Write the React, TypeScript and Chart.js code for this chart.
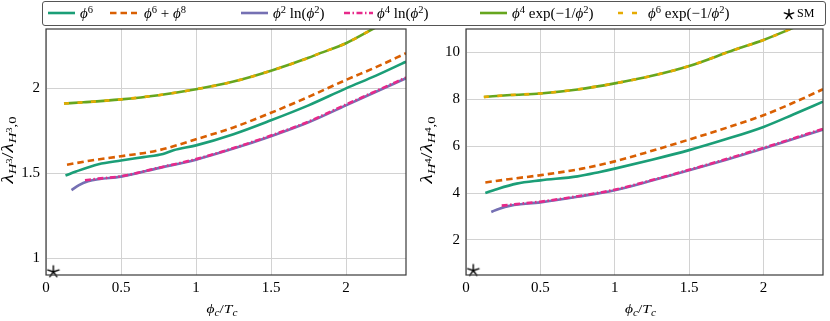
import React, { useEffect, useRef } from "react";
import { Chart, registerables } from "chart.js";
Chart.register(...registerables);

// ---------- axes ----------
const X_TICKS = [0, 0.5, 1, 1.5, 2];
const X_MIN = 0;
const X_MAX = 2.4;
const L_Y_TICKS = [1, 1.5, 2];
const L_Y_MIN = 0.9;
const L_Y_MAX = 2.35;
const R_Y_TICKS = [2, 4, 6, 8, 10];
const R_Y_MIN = 0.5;
const R_Y_MAX = 11;

// ---------- left panel: lambda_H3 / lambda_H3,0 ----------
const L_P6_X = [0.13, 0.2, 0.35, 0.5, 0.65, 0.78, 0.85, 1.0, 1.25, 1.5, 1.75, 2.0, 2.2, 2.4];
const L_P6_Y = [1.486, 1.51, 1.553, 1.575, 1.595, 1.613, 1.635, 1.664, 1.73, 1.812, 1.9, 2.0, 2.075, 2.157];
const L_P68_X = [0.14, 0.3, 0.5, 0.75, 1.0, 1.25, 1.5, 1.75, 2.0, 2.2, 2.4];
const L_P68_Y = [1.55, 1.575, 1.6, 1.635, 1.7, 1.77, 1.856, 1.95, 2.05, 2.125, 2.207];
const L_P2LN_X = [0.17, 0.22, 0.28, 0.35, 0.5, 0.75, 1.0, 1.25, 1.5, 1.75, 2.0, 2.2, 2.4];
const L_P2LN_Y = [1.4, 1.43, 1.452, 1.465, 1.48, 1.53, 1.58, 1.645, 1.718, 1.8, 1.9, 1.98, 2.06];
const L_P4LN_X = [0.26, 0.35, 0.5, 0.75, 1.0, 1.25, 1.5, 1.75, 2.0, 2.2, 2.4];
const L_P4LN_Y = [1.458, 1.468, 1.482, 1.532, 1.583, 1.648, 1.722, 1.804, 1.905, 1.984, 2.064];
const L_P4EXP_X = [0.12, 0.25, 0.5, 0.75, 1.0, 1.25, 1.5, 1.75, 1.82, 2.0, 2.2, 2.4];
const L_P4EXP_Y = [1.911, 1.918, 1.935, 1.96, 1.995, 2.04, 2.104, 2.18, 2.205, 2.266, 2.36, 2.45];
const L_P6EXP_X = L_P4EXP_X;
const L_P6EXP_Y = L_P4EXP_Y;
const L_SM_X = [0.049];
const L_SM_Y = [0.919];

// ---------- right panel: lambda_H4 / lambda_H4,0 ----------
const R_P6_X = [0.13, 0.2, 0.34, 0.5, 0.75, 0.9, 1.0, 1.25, 1.5, 1.75, 2.0, 2.2, 2.4];
const R_P6_Y = [4.0, 4.15, 4.4, 4.54, 4.71, 4.9, 5.04, 5.42, 5.83, 6.3, 6.82, 7.35, 7.9];
const R_P68_X = [0.13, 0.3, 0.5, 0.78, 1.0, 1.25, 1.5, 1.75, 2.0, 2.2, 2.4];
const R_P68_Y = [4.45, 4.6, 4.76, 5.04, 5.35, 5.8, 6.28, 6.78, 7.32, 7.85, 8.43];
const R_P2LN_X = [0.17, 0.22, 0.3, 0.5, 0.75, 1.0, 1.25, 1.5, 1.75, 2.0, 2.2, 2.4];
const R_P2LN_Y = [3.19, 3.32, 3.46, 3.6, 3.84, 4.12, 4.53, 4.97, 5.42, 5.9, 6.3, 6.71];
const R_P4LN_X = [0.24, 0.3, 0.5, 0.75, 1.0, 1.25, 1.5, 1.75, 2.0, 2.2, 2.4];
const R_P4LN_Y = [3.46, 3.5, 3.63, 3.86, 4.14, 4.55, 4.99, 5.45, 5.93, 6.33, 6.74];
const R_P4EXP_X = [0.12, 0.3, 0.5, 0.75, 1.0, 1.25, 1.5, 1.8, 2.0, 2.2, 2.4];
const R_P4EXP_Y = [8.1, 8.18, 8.25, 8.42, 8.68, 9.0, 9.42, 10.1, 10.53, 11.05, 11.6];
const R_P6EXP_X = R_P4EXP_X;
const R_P6EXP_Y = R_P4EXP_Y;
const R_SM_X = [0.049];
const R_SM_Y = [0.69];

// ---------- styles ----------
const FONT = '"Liberation Serif", "DejaVu Serif", serif';
const C_P6 = "#1b9e77";
const C_P68 = "#d95f02";
const C_P2LN = "#7570b3";
const C_P4LN = "#e7298a";
const C_P4EXP = "#66a61e";
const C_P6EXP = "#e6ab02";
const D_P68 = [6.5, 4];
const D_P4LN = [6, 2.5, 1.5, 2.5];
const D_P6EXP = [5, 8.5];
const LW = 2.6;

function pts(xs: number[], ys: number[]) {
  return xs.map((x, i) => ({ x, y: ys[i] }));
}

function makeStar(r: number, lw: number) {
  const c = document.createElement("canvas");
  const s = Math.ceil(2 * r + 4);
  c.width = s;
  c.height = s;
  const ctx = c.getContext("2d")!;
  ctx.strokeStyle = "#000";
  ctx.lineWidth = lw;
  ctx.lineCap = "round";
  for (let k = 0; k < 5; k++) {
    const a = -Math.PI / 2 + (k * 2 * Math.PI) / 5;
    ctx.beginPath();
    ctx.moveTo(s / 2, s / 2);
    ctx.lineTo(s / 2 + r * Math.cos(a), s / 2 + r * Math.sin(a));
    ctx.stroke();
  }
  return c;
}

type Seg = { t: string; s: number; dy: number; it?: boolean };

function drawRich(ctx: CanvasRenderingContext2D, segs: Seg[], targetW: number) {
  let w = 0;
  for (const g of segs) {
    ctx.font = `${g.it ? "italic " : ""}${g.s}px ${FONT}`;
    w += ctx.measureText(g.t).width;
  }
  const sc = targetW / w;
  ctx.save();
  ctx.scale(sc, 1);
  let cx = -w / 2;
  for (const g of segs) {
    ctx.font = `${g.it ? "italic " : ""}${g.s}px ${FONT}`;
    ctx.fillText(g.t, cx, g.dy);
    cx += ctx.measureText(g.t).width;
  }
  ctx.restore();
}

const X_TITLE: Seg[] = [
  { t: "ϕ", s: 13, dy: 0, it: true },
  { t: "c", s: 9.5, dy: 2.5, it: true },
  { t: "/", s: 13, dy: 0 },
  { t: "T", s: 13, dy: 0, it: true },
  { t: "c", s: 9.5, dy: 2.5, it: true },
];

function yTitle(n: string): Seg[] {
  return [
    { t: "λ", s: 16, dy: 0, it: true },
    { t: "H", s: 11, dy: 3, it: true },
    { t: n, s: 8, dy: -1.5 },
    { t: "/", s: 16, dy: 0 },
    { t: "λ", s: 16, dy: 0, it: true },
    { t: "H", s: 11, dy: 3, it: true },
    { t: n, s: 8, dy: -1.5 },
    { t: ",0", s: 11, dy: 3 },
  ];
}

type Panel = {
  series: { xs: number[]; ys: number[]; color: string; dash: number[] }[];
  smX: number[];
  smY: number[];
  yTicks: number[];
  yMin: number;
  yMax: number;
  yWidth: number;
  padRight: number;
  yTitleN: string;
  yTitleBase: number;
};

function buildChart(canvas: HTMLCanvasElement, p: Panel) {
  const star = makeStar(6, 1.4);
  const datasets: any[] = [
    {
      data: pts(p.smX, p.smY),
      showLine: false,
      pointStyle: star,
      pointRadius: 6,
      clip: false,
    },
    ...p.series.map((s) => ({
      data: pts(s.xs, s.ys),
      borderColor: s.color,
      backgroundColor: s.color,
      borderWidth: LW,
      borderDash: s.dash,
      pointRadius: 0,
      fill: false,
      cubicInterpolationMode: "monotone",
    })),
  ];
  const framePlugin = {
    id: "frame",
    afterDraw(chart: any) {
      const { ctx, chartArea: a } = chart;
      ctx.save();
      ctx.strokeStyle = "#3a3a3a";
      ctx.lineWidth = 1.2;
      ctx.strokeRect(a.left, a.top, a.right - a.left, a.bottom - a.top);
      ctx.fillStyle = "#000";
      ctx.textBaseline = "alphabetic";
      ctx.save();
      ctx.translate((a.left + a.right) / 2 - 4, 313);
      drawRich(ctx, X_TITLE, 31);
      ctx.restore();
      ctx.save();
      ctx.translate(p.yTitleBase, 150);
      ctx.rotate(-Math.PI / 2);
      drawRich(ctx, yTitle(p.yTitleN), 67);
      ctx.restore();
      ctx.restore();
    },
  };
  const tickFont = { family: FONT, size: 15 };
  return new Chart(canvas, {
    type: "line",
    data: { datasets },
    options: {
      animation: false,
      responsive: false,
      devicePixelRatio: 1,
      layout: { padding: { left: 0, right: p.padRight, top: 29, bottom: 0 } },
      plugins: { legend: { display: false }, tooltip: { enabled: false } },
      scales: {
        x: {
          type: "linear",
          min: X_MIN,
          max: X_MAX,
          afterFit: (s: any) => {
            s.height = 46;
          },
          afterBuildTicks: (s: any) => {
            s.ticks = X_TICKS.map((v) => ({ value: v }));
          },
          ticks: { font: tickFont, color: "#000", padding: 4, maxRotation: 0, callback: (v: any) => String(v) },
          grid: { color: "#d2d2d2", lineWidth: 1, drawTicks: false },
          border: { display: false },
        },
        y: {
          type: "linear",
          min: p.yMin,
          max: p.yMax,
          afterFit: (s: any) => {
            s.width = p.yWidth;
          },
          afterBuildTicks: (s: any) => {
            s.ticks = p.yTicks.map((v) => ({ value: v }));
          },
          ticks: { font: tickFont, color: "#000", padding: 6, callback: (v: any) => String(v) },
          grid: { color: "#d2d2d2", lineWidth: 1, drawTicks: false },
          border: { display: false },
        },
      },
    } as any,
    plugins: [framePlugin],
  });
}

const LEFT: Panel = {
  series: [
    { xs: L_P6EXP_X, ys: L_P6EXP_Y, color: C_P6EXP, dash: D_P6EXP },
    { xs: L_P4EXP_X, ys: L_P4EXP_Y, color: C_P4EXP, dash: [] },
    { xs: L_P4LN_X, ys: L_P4LN_Y, color: C_P4LN, dash: D_P4LN },
    { xs: L_P2LN_X, ys: L_P2LN_Y, color: C_P2LN, dash: [] },
    { xs: L_P68_X, ys: L_P68_Y, color: C_P68, dash: D_P68 },
    { xs: L_P6_X, ys: L_P6_Y, color: C_P6, dash: [] },
  ],
  smX: L_SM_X,
  smY: L_SM_Y,
  yTicks: L_Y_TICKS,
  yMin: L_Y_MIN,
  yMax: L_Y_MAX,
  yWidth: 46,
  padRight: 9,
  yTitleN: "3",
  yTitleBase: 13,
};

const RIGHT: Panel = {
  series: [
    { xs: R_P6EXP_X, ys: R_P6EXP_Y, color: C_P6EXP, dash: D_P6EXP },
    { xs: R_P4EXP_X, ys: R_P4EXP_Y, color: C_P4EXP, dash: [] },
    { xs: R_P4LN_X, ys: R_P4LN_Y, color: C_P4LN, dash: D_P4LN },
    { xs: R_P2LN_X, ys: R_P2LN_Y, color: C_P2LN, dash: [] },
    { xs: R_P68_X, ys: R_P68_Y, color: C_P68, dash: D_P68 },
    { xs: R_P6_X, ys: R_P6_Y, color: C_P6, dash: [] },
  ],
  smX: R_SM_X,
  smY: R_SM_Y,
  yTicks: R_Y_TICKS,
  yMin: R_Y_MIN,
  yMax: R_Y_MAX,
  yWidth: 51,
  padRight: 4,
  yTitleN: "4",
  yTitleBase: 17,
};

const supStyle: React.CSSProperties = {
  fontSize: "10.5px",
  position: "relative",
  top: "-5.5px",
  fontStyle: "normal",
};
const Phi = ({ p }: { p: string }) => (
  <>
    <i>ϕ</i>
    <span style={supStyle}>{p}</span>
  </>
);

function Sample({ x, w, color, dash }: { x: number; w: number; color: string; dash?: string }) {
  return (
    <svg width={w} height={6} style={{ position: "absolute", left: x, top: 10 }}>
      <line x1={0} y1={3} x2={w} y2={3} stroke={color} strokeWidth={LW} strokeDasharray={dash} />
    </svg>
  );
}

function Label({ x, children, size = 15 }: { x: number; children: any; size?: number }) {
  return (
    <div
      style={{
        position: "absolute",
        left: x,
        top: 0,
        height: 27,
        lineHeight: "27px",
        fontFamily: FONT,
        fontSize: size,
        whiteSpace: "nowrap",
        color: "#000",
      }}
    >
      {children}
    </div>
  );
}

function Legend() {
  return (
    <>
      <div
        style={{
          position: "absolute",
          left: 42,
          top: 1,
          width: 784,
          height: 25,
          boxSizing: "border-box",
          border: "1.2px solid #555",
          borderRadius: 3,
          background: "#fff",
        }}
      />
      <Sample x={48} w={27} color={C_P6} />
      <Label x={80}>
        <Phi p="6" />
      </Label>
      <Sample x={110} w={27} color={C_P68} dash="6.5 4" />
      <Label x={144}>
        <Phi p="6" /> + <Phi p="8" />
      </Label>
      <Sample x={241} w={27} color={C_P2LN} />
      <Label x={273}>
        <Phi p="2" /> ln(<Phi p="2" />)
      </Label>
      <Sample x={344} w={29} color={C_P4LN} dash="6 2.5 1.5 2.5" />
      <Label x={377}>
        <Phi p="4" /> ln(<Phi p="2" />)
      </Label>
      <Sample x={480} w={27} color={C_P4EXP} />
      <Label x={512}>
        <Phi p="4" /> exp(−1/<Phi p="2" />)
      </Label>
      <Sample x={618} w={19} color={C_P6EXP} dash="5 9" />
      <Label x={648}>
        <Phi p="6" /> exp(−1/<Phi p="2" />)
      </Label>
      <svg width={12} height={12} style={{ position: "absolute", left: 783, top: 8 }}>
        {[0, 1, 2, 3, 4].map((k) => {
          const a = -Math.PI / 2 + (k * 2 * Math.PI) / 5;
          return (
            <line
              key={k}
              x1={6}
              y1={6.5}
              x2={6 + 5 * Math.cos(a)}
              y2={6.5 + 5 * Math.sin(a)}
              stroke="#000"
              strokeWidth={1.4}
              strokeLinecap="round"
            />
          );
        })}
      </svg>
      <Label x={797} size={12}>
        SM
      </Label>
    </>
  );
}

export default function App() {
  const lRef = useRef<HTMLCanvasElement>(null);
  const rRef = useRef<HTMLCanvasElement>(null);
  useEffect(() => {
    const c1 = buildChart(lRef.current!, LEFT);
    const c2 = buildChart(rRef.current!, RIGHT);
    return () => {
      c1.destroy();
      c2.destroy();
    };
  }, []);
  return (
    <div style={{ position: "absolute", left: 0, top: 0, width: 830, height: 321, background: "#fff", overflow: "hidden" }}>
      <canvas ref={lRef} width={415} height={321} style={{ position: "absolute", left: 0, top: 0, width: 415, height: 321 }} />
      <canvas ref={rRef} width={415} height={321} style={{ position: "absolute", left: 415, top: 0, width: 415, height: 321 }} />
      <Legend />
    </div>
  );
}
